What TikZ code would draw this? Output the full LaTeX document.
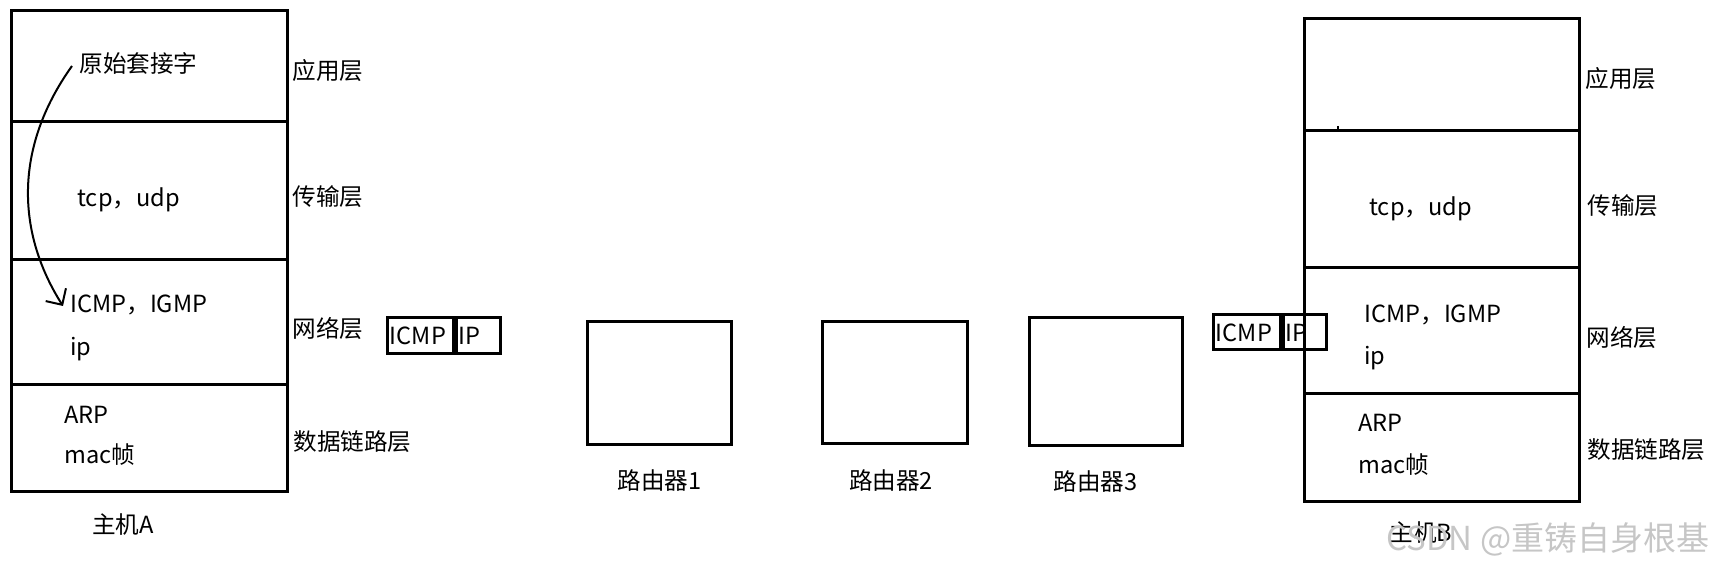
\documentclass[tikz,border=0pt]{standalone}
\usepackage{fontspec}
\setmainfont{Noto Sans CJK SC}
\usetikzlibrary{arrows.meta}
\tikzset{
  txt/.style={anchor=west, inner sep=0pt, text height=9pt, text depth=2.5pt, font=\fontsize{11.8}{14}\selectfont},
  lbl/.style={inner sep=0pt, font=\fontsize{11.8}{14}\selectfont},
  layerline/.style={line width=1.5pt},
  pkt/.style={draw, line width=1.5pt, anchor=west, inner xsep=1.2pt, inner ysep=0pt, align=left, font=\fontsize{11.8}{14}\selectfont},
  router/.style={draw, line width=1.5pt, inner sep=0pt},
  flow/.style={line width=1pt, -{Straight Barb[length=6pt,width=12pt]}},
}
\begin{document}
\begin{tikzpicture}[x=0.5pt,y=-0.5pt]
  \useasboundingbox (0,0) rectangle (1715,576);
  % host A
  \draw[layerline] (11,11) rectangle (287,492);
  \draw[layerline] (11,122) -- (287,122) (11,260) -- (287,260) (11,385) -- (287,385);
  \node[txt] (rawA) at (79,66) {原始套接字};
  \node[txt] (appA) at (292,73) {应用层};
  \node[txt] (tcpA) at (77,200) {tcp，udp};
  \node[txt] (transA) at (292,199) {传输层};
  \node[txt] (icmpA) at (70,306) {ICMP，IGMP};
  \node[txt] (ipA) at (70,349) {ip};
  \node[txt] (netA) at (292,331) {网络层};
  \node[txt] (arpA) at (64,417) {ARP};
  \node[txt] (macA) at (64,457) {mac帧};
  \node[txt] (linkA) at (293,444) {数据链路层};
  \node[lbl] (hostA) at (123,525) {主机A};
  \draw[flow] ([xshift=-3.5pt]rawA.west) .. controls (12,150) and (18,235) .. ([xshift=-3.5pt]icmpA.west);
  % packet leaving A
  \node[pkt, text width=30.5pt, minimum height=18pt] (pktA1) at (386,336) {ICMP};
  \node[pkt, text width=19.5pt, minimum height=18pt] (pktA2) at (pktA1.east) {IP};
  % routers
  \node[router, minimum width=72pt, minimum height=61.5pt] (r1) at (659,383.5) {};
  \node[router, minimum width=72.25pt, minimum height=61pt] (r2) at (894.75,383) {};
  \node[router, minimum width=76.5pt, minimum height=64pt] (r3) at (1105.5,382) {};
  \node[lbl] (r1lab) at (659.5,481) {路由器1};
  \node[lbl] (r2lab) at (891,481) {路由器2};
  \node[lbl] (r3lab) at (1095.5,482) {路由器3};
  % packet arriving at B
  \node[pkt, text width=31pt, minimum height=17.5pt] (pktB1) at (1212,332.5) {ICMP};
  \node[pkt, text width=19pt, minimum height=17.5pt] (pktB2) at (pktB1.east) {IP};
  % host B
  \draw[layerline] (1304,19) rectangle (1579,502);
  \draw[layerline] (1304,131) -- (1579,131) (1304,268) -- (1579,268) (1304,394) -- (1579,394);
  \draw[line width=1pt] (1338,126) -- (1338,131);
  \node[txt] (appB) at (1585,81) {应用层};
  \node[txt] (tcpB) at (1369,209) {tcp，udp};
  \node[txt] (transB) at (1587,208) {传输层};
  \node[txt] (icmpB) at (1364,316) {ICMP，IGMP};
  \node[txt] (ipB) at (1364,358) {ip};
  \node[txt] (netB) at (1586,340) {网络层};
  \node[txt] (arpB) at (1358,425) {ARP};
  \node[txt] (macB) at (1358,467) {mac帧};
  \node[txt] (linkB) at (1587,452) {数据链路层};
  \node[lbl] (hostB) at (1421,533) {主机B};
  \node[txt, text=gray!45, font=\fontsize{16.5}{18}\selectfont] (mark) at (1386,544) {CSDN @重铸自身根基};
\end{tikzpicture}
\end{document}
